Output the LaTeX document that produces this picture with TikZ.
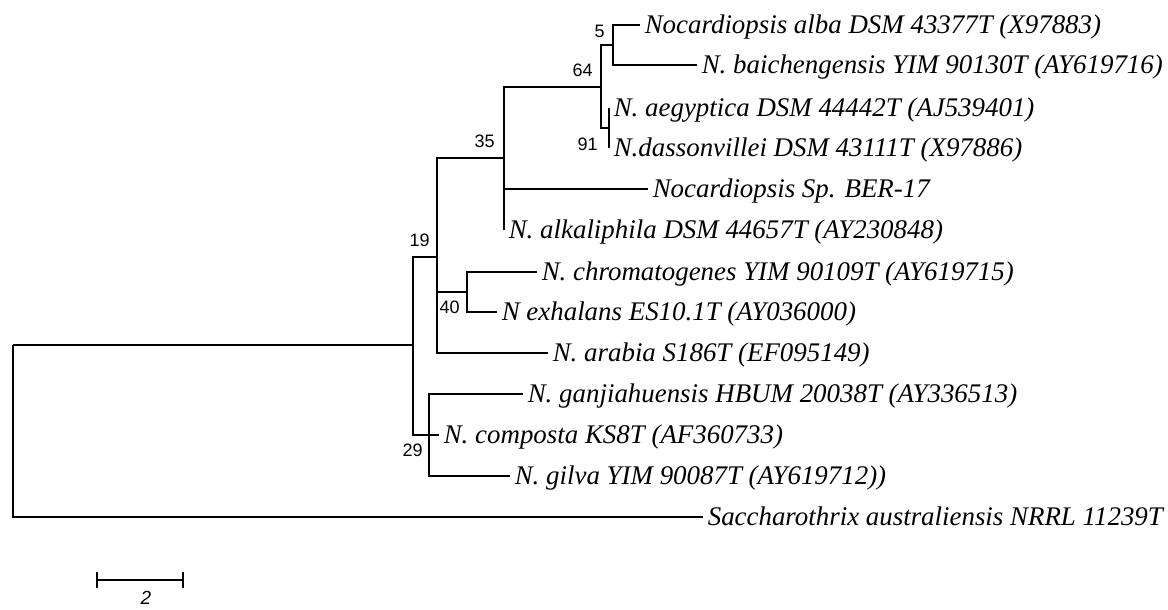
\documentclass[tikz,border=0pt]{standalone}
\usepackage{fontspec}
\setmainfont{Liberation Serif}
\newfontfamily\bsfont{Liberation Sans}
\begin{document}
\begin{tikzpicture}[x=0.5pt,y=-0.5pt,
  branch/.style={line width=0.65pt, line join=miter},
  taxon/.style={anchor=base west, inner sep=0pt, xshift=2.2pt, yshift=-4.2pt,
    font=\fontsize{13.45}{15}\selectfont\itshape},
  boot/.style={anchor=east, inner sep=0pt, font=\bsfont\fontsize{9}{10}\selectfont},
  scalebar/.style={line width=1.4pt}]
\useasboundingbox (0,0) rectangle (1168,610);
% internal nodes
\coordinate (root) at (13,345);
\coordinate (nA)   at (413,345);
\coordinate (n19)  at (437,257);
\coordinate (n35)  at (504,158);
\coordinate (n64)  at (601,87);
\coordinate (n5)   at (613,45);
\coordinate (n91)  at (609,128);
\coordinate (n40)  at (467,292);
\coordinate (n29)  at (429,435);
% tips
\coordinate (t-alba)  at (640,25);
\coordinate (t-baich) at (697,65);
\coordinate (t-aeg)   at (609,108);
\coordinate (t-dass)  at (609,148);
\coordinate (t-ber)   at (648,189);
\coordinate (t-alk)   at (504,230);
\coordinate (t-chrom) at (537,272);
\coordinate (t-exh)   at (497,312);
\coordinate (t-arab)  at (548,353);
\coordinate (t-ganj)  at (523,394);
\coordinate (t-comp)  at (439,435);
\coordinate (t-gilva) at (510,476);
\coordinate (t-sacc)  at (703,517);
% branches
\draw[branch] (root) |- (nA);
\draw[branch] (root) |- (t-sacc);
\draw[branch] (nA) |- (n19);
\draw[branch] (nA) |- (n29);
\draw[branch] (n19) |- (n35);
\draw[branch] (n19) |- (n40);
\draw[branch] (n19) |- (t-arab);
\draw[branch] (n35) |- (n64);
\draw[branch] (n35) |- (t-ber);
\draw[branch] (n35) |- (t-alk);
\draw[branch] (n64) |- (n5);
\draw[branch] (n64) |- (n91);
\draw[branch] (n5) |- (t-alba);
\draw[branch] (n5) |- (t-baich);
\draw[branch] (n91) |- (t-aeg);
\draw[branch] (n91) |- (t-dass);
\draw[branch] (n40) |- (t-chrom);
\draw[branch] (n40) |- (t-exh);
\draw[branch] (n29) |- (t-ganj);
\draw[branch] (n29) |- (t-comp);
\draw[branch] (n29) |- (t-gilva);
% taxon labels
\node[taxon] (L-alba)  at (t-alba)  {Nocardiopsis alba DSM 43377T (X97883)};
\node[taxon] (L-baich) at (t-baich) {N. baichengensis YIM 90130T (AY619716)};
\node[taxon] (L-aeg)   at (t-aeg)   {N. aegyptica DSM 44442T (AJ539401)};
\node[taxon] (L-dass)  at (t-dass)  {N.dassonvillei DSM 43111T (X97886)};
\node[taxon] (L-ber)   at (t-ber)   {Nocardiopsis Sp. BER-17};
\node[taxon] (L-alk)   at (t-alk)   {N. alkaliphila DSM 44657T (AY230848)};
\node[taxon] (L-chrom) at (t-chrom) {N. chromatogenes YIM 90109T (AY619715)};
\node[taxon] (L-exh)   at (t-exh)   {N exhalans ES10.1T (AY036000)};
\node[taxon] (L-arab)  at (t-arab)  {N. arabia S186T (EF095149)};
\node[taxon] (L-ganj)  at (t-ganj)  {N. ganjiahuensis HBUM 20038T (AY336513)};
\node[taxon] (L-comp)  at (t-comp)  {N. composta KS8T (AF360733)};
\node[taxon] (L-gilva) at (t-gilva) {N. gilva YIM 90087T (AY619712))};
\node[taxon] (L-sacc)  at (t-sacc)  {Saccharothrix australiensis NRRL 11239T};
% bootstrap values
\node[boot] (b5)  at (605,31)  {5};
\node[boot] (b64) at (593,70)  {64};
\node[boot] (b91) at (598,144) {91};
\node[boot] (b35) at (495,141) {35};
\node[boot] (b19) at (430,240) {19};
\node[boot] (b40) at (460,307) {40};
\node[boot] (b29) at (423,450) {29};
% scale bar
\coordinate (s1) at (97,580);
\coordinate (s2) at (183,580);
\draw[scalebar] (s1) -- (s2);
\draw[scalebar] ([yshift=4.2pt]s1) -- ([yshift=-4.2pt]s1);
\draw[scalebar] ([yshift=4.2pt]s2) -- ([yshift=-4.2pt]s2);
\node[anchor=north, inner sep=0pt, font=\bsfont\itshape\fontsize{9.5}{10}\selectfont] (sl) at (146,591) {2};
\end{tikzpicture}
\end{document}
